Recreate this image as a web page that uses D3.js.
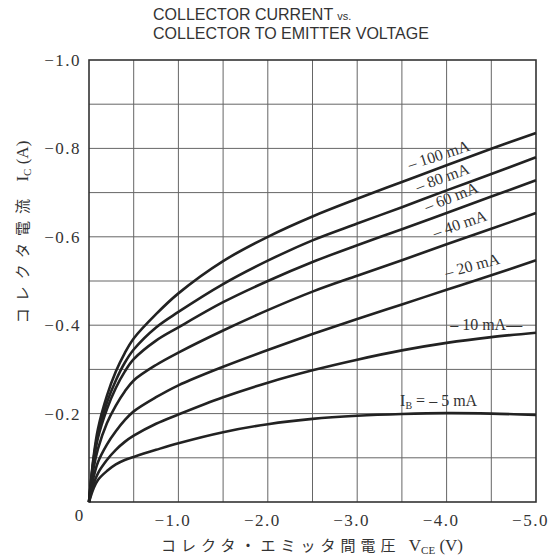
<!DOCTYPE html>
<html>
<head>
<meta charset="utf-8">
<script src="https://cdn.jsdelivr.net/npm/d3@7"></script>
<style>
  body { margin: 0; background: #fff; }
  svg { display: block; }
</style>
</head>
<body>
<svg id="chart" width="558" height="560"></svg>
<script>
// datos (V, A negativos)
var vce = [0, -0.05, -0.1, -0.2, -0.3, -0.4, -0.5, -0.75, -1.0, -1.5, -2.0, -2.5, -3.0, -3.5, -4.0, -4.5, -5.0];
var ib100 = [0, -0.10, -0.165, -0.24, -0.295, -0.337, -0.370, -0.425, -0.472, -0.545, -0.600, -0.646, -0.686, -0.724, -0.762, -0.799, -0.835];
var ib80  = [0, -0.095, -0.155, -0.225, -0.275, -0.315, -0.345, -0.395, -0.430, -0.493, -0.546, -0.592, -0.630, -0.667, -0.705, -0.742, -0.780];
var ib60  = [0, -0.09, -0.145, -0.21, -0.258, -0.295, -0.323, -0.365, -0.395, -0.452, -0.500, -0.543, -0.581, -0.617, -0.654, -0.691, -0.728];
var ib40  = [0, -0.075, -0.12, -0.178, -0.218, -0.250, -0.275, -0.310, -0.338, -0.388, -0.434, -0.476, -0.512, -0.547, -0.583, -0.618, -0.654];
var ib20  = [0, -0.055, -0.09, -0.13, -0.16, -0.185, -0.205, -0.237, -0.264, -0.306, -0.344, -0.380, -0.414, -0.447, -0.480, -0.513, -0.547];
var ib10  = [0, -0.04, -0.065, -0.095, -0.118, -0.136, -0.150, -0.177, -0.198, -0.237, -0.270, -0.298, -0.322, -0.343, -0.360, -0.373, -0.383];
var ib5   = [0, -0.03, -0.05, -0.07, -0.085, -0.095, -0.102, -0.118, -0.133, -0.158, -0.176, -0.188, -0.195, -0.199, -0.201, -0.200, -0.197];
var series = [ib100, ib80, ib60, ib40, ib20, ib10, ib5];

var xTicks = [-1.0, -2.0, -3.0, -4.0, -5.0];
var yTicks = [-1.0, -0.8, -0.6, -0.4, -0.2];
var labels = ["\u2013 100 mA", "\u2013 80 mA", "\u2013 60 mA", "\u2013 40 mA", "\u2013 20 mA", "\u2013 10 mA\u2014"];

var svg = d3.select("#chart");
var pLeft = 89, pRight = 536, pTop = 60, pBottom = 502;

var x = d3.scaleLinear().domain([0, -5]).range([pLeft, pRight]);
var y = d3.scaleLinear().domain([0, -1]).range([pBottom, pTop]);

var fmt = function(d) { return "\u2212" + Math.abs(d).toFixed(1); };

// titulo
var title = svg.append("g")
  .attr("font-family", "Liberation Sans, Arial, sans-serif")
  .attr("fill", "#333").attr("font-size", 16);
title.append("text").attr("x", 153).attr("y", 20)
  .text("COLLECTOR CURRENT ")
  .append("tspan").attr("font-size", 11).text("vs.");
title.append("text").attr("x", 153).attr("y", 39)
  .text("COLLECTOR TO EMITTER VOLTAGE");

// rejilla
var grid = svg.append("g").attr("stroke", "#666").attr("stroke-width", 1);
grid.selectAll(".gx").data(d3.range(1, 10)).enter().append("line")
  .attr("x1", function(d) { return x(-d * 0.5); })
  .attr("x2", function(d) { return x(-d * 0.5); })
  .attr("y1", pTop).attr("y2", pBottom);
grid.selectAll(".gy").data(d3.range(1, 10)).enter().append("line")
  .attr("y1", function(d) { return y(-d * 0.1); })
  .attr("y2", function(d) { return y(-d * 0.1); })
  .attr("x1", pLeft).attr("x2", pRight);

svg.append("rect").attr("x", pLeft).attr("y", pTop)
  .attr("width", pRight - pLeft).attr("height", pBottom - pTop)
  .attr("fill", "none").attr("stroke", "#333").attr("stroke-width", 1.6);

// ejes
var yAxis = svg.append("g").attr("transform", "translate(" + pLeft + ",0)")
  .call(d3.axisLeft(y).tickValues(yTicks).tickSize(0).tickPadding(8).tickFormat(fmt));
var xAxis = svg.append("g").attr("transform", "translate(-6," + pBottom + ")")
  .call(d3.axisBottom(x).tickValues(xTicks).tickSize(0).tickPadding(12).tickFormat(fmt));
[xAxis, yAxis].forEach(function(a) {
  a.select(".domain").remove();
  a.selectAll("text").attr("font-family", "Liberation Serif, Times New Roman, serif")
    .attr("font-size", 17).attr("fill", "#333").attr("letter-spacing", 1.5);
});
svg.append("text").attr("x", 79).attr("y", 521).attr("text-anchor", "middle")
  .attr("font-family", "Liberation Serif, serif").attr("font-size", 17).attr("fill", "#333")
  .text("0");

// curvas
var line = d3.line()
  .x(function(d, i) { return x(vce[i]); })
  .y(function(d) { return y(d); })
  .curve(d3.curveCatmullRom.alpha(0.5));
svg.append("g").selectAll("path").data(series).enter().append("path")
  .attr("d", line).attr("fill", "none")
  .attr("stroke", "#222").attr("stroke-width", 2.6);

// etiquetas de las curvas
var spots = [[-3.59, -0.751, -18], [-3.68, -0.701, -20], [-3.78, -0.656, -21],
             [-3.87, -0.597, -19], [-4.0, -0.507, -15], [-4.04, -0.39, 0]];
var lab = svg.append("g").attr("font-family", "Liberation Serif, serif")
  .attr("font-size", 16).attr("fill", "#333");
lab.selectAll("text").data(labels).enter().append("text")
  .attr("transform", function(d, i) {
    return "translate(" + x(spots[i][0]) + "," + y(spots[i][1]) + ") rotate(" + spots[i][2] + ")";
  })
  .text(function(d) { return d; });
var ibl = lab.append("text").attr("x", x(-3.48)).attr("y", y(-0.218));
ibl.append("tspan").text("I");
ibl.append("tspan").attr("font-size", 10).attr("dy", 3).text("B");
ibl.append("tspan").attr("dy", -3).text(" = \u2013 5  mA");

// titulos de ejes
var xl = svg.append("text").attr("x", 312).attr("y", 551).attr("text-anchor", "middle")
  .attr("font-family", "Noto Sans CJK JP, sans-serif").attr("font-size", 15).attr("fill", "#333");
xl.append("tspan").attr("letter-spacing", 5).text("コレクタ・エミッタ間電圧 ");
xl.append("tspan").attr("font-family", "Liberation Serif, serif").attr("font-size", 17).text("V");
xl.append("tspan").attr("font-family", "Liberation Serif, serif").attr("font-size", 11).attr("dy", 3).text("CE");
xl.append("tspan").attr("font-family", "Liberation Serif, serif").attr("font-size", 17).attr("dy", -3).text(" (V)");

var yl = svg.append("text").attr("transform", "translate(28,232) rotate(-90)")
  .attr("text-anchor", "middle")
  .attr("font-family", "Noto Sans CJK JP, sans-serif").attr("font-size", 15).attr("fill", "#333");
yl.append("tspan").attr("letter-spacing", 7).text("コレクタ電流 ");
yl.append("tspan").attr("font-family", "Liberation Serif, serif").attr("font-size", 17).text("I");
yl.append("tspan").attr("font-family", "Liberation Serif, serif").attr("font-size", 11).attr("dy", 3).text("C");
yl.append("tspan").attr("font-family", "Liberation Serif, serif").attr("font-size", 17).attr("dy", -3).text(" (A)");
</script>
</body>
</html>
